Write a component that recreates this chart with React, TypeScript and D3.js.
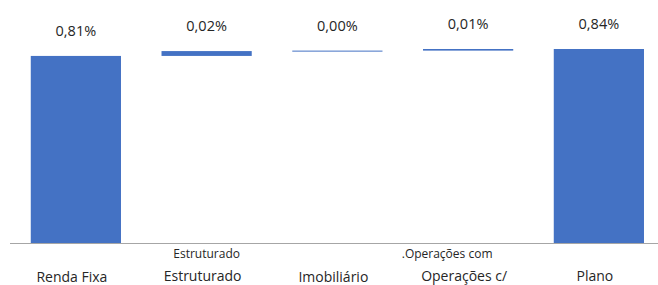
import React, { useEffect, useRef } from "react";
import * as d3 from "d3";

// waterfall steps (in %)
const categories = ["Renda Fixa", "Estruturado", "Imobiliário", "Operações c/", "Plano"];
const topLabels = ["", "Estruturado", "", ".Operações com", ""];
const topLabelShift = [0, 0, 0, -21, 0];
const values = [0.81, 0.021, 0.002, 0.007, 0.84];
const isTotal = [false, false, false, false, true];

const App = () => {
  const svgRef = useRef<SVGSVGElement | null>(null);

  useEffect(() => {
    const width = 658;
    const height = 285;
    const baseline = 243;

    const svg = d3
      .select(svgRef.current)
      .attr("width", width)
      .attr("height", height)
      .style("position", "absolute")
      .style("left", "0px")
      .style("top", "0px");
    svg.selectAll("*").remove();

    // build running totals for floating bars
    let run = 0;
    const rows = categories.map((c, i) => {
      let start, end;
      if (isTotal[i]) {
        start = 0;
        end = values[i];
      } else {
        start = run;
        end = run + values[i];
        run = end;
      }
      return { c, i, start, end, v: values[i] };
    });

    const x = d3
      .scaleBand()
      .domain(categories)
      .range([10.5, 664.25])
      .paddingInner(0.31)
      .paddingOuter(0.155);
    const y = d3.scaleLinear().domain([0, 0.84]).range([baseline, 49]);

    svg
      .selectAll(".bar")
      .data(rows)
      .enter()
      .append("rect")
      .attr("class", "bar")
      .attr("x", (d) => x(d.c)!)
      .attr("width", x.bandwidth())
      .attr("y", (d) => y(Math.max(d.start, d.end)))
      .attr("height", (d) => Math.max(1, Math.abs(y(d.start) - y(d.end))))
      .attr("fill", "#4472c4");

    // value labels
    const fmt = (v: number) => v.toFixed(2).replace(".", ",") + "%";
    svg
      .selectAll(".val")
      .data(rows)
      .enter()
      .append("text")
      .attr("x", (d) => x(d.c)! + x.bandwidth() / 2)
      .attr("y", (d) => y(Math.max(d.start, d.end)) - 20)
      .attr("text-anchor", "middle")
      .attr("font-family", "'Open Sans', sans-serif")
      .attr("font-size", 14.5)
      .attr("fill", "#262626")
      .text((d) => fmt(d.v));

    // axis line
    svg
      .append("line")
      .attr("x1", 10)
      .attr("x2", width)
      .attr("y1", baseline + 0.5)
      .attr("y2", baseline + 0.5)
      .attr("stroke", "#a6a6a6")
      .attr("stroke-width", 1);

    // category labels
    svg
      .selectAll(".cat")
      .data(rows)
      .enter()
      .append("text")
      .attr("x", (d) => x(d.c)! + x.bandwidth() / 2 - 4)
      .attr("y", (d) => (d.i === 0 || d.i === 2 ? 282 : 280.5))
      .attr("text-anchor", "middle")
      .attr("font-family", "'Open Sans', sans-serif")
      .attr("font-size", 14)
      .attr("fill", "#262626")
      .text((d) => d.c);

    svg
      .selectAll(".cat2")
      .data(rows.filter((d) => topLabels[d.i]))
      .enter()
      .append("text")
      .attr("x", (d) => x(d.c)! + x.bandwidth() / 2 + topLabelShift[d.i])
      .attr("y", 258)
      .attr("text-anchor", "middle")
      .attr("font-family", "'Open Sans', sans-serif")
      .attr("font-size", 12)
      .attr("fill", "#262626")
      .text((d) => topLabels[d.i]);
  }, []);

  return <svg ref={svgRef}></svg>;
};

export default App;
